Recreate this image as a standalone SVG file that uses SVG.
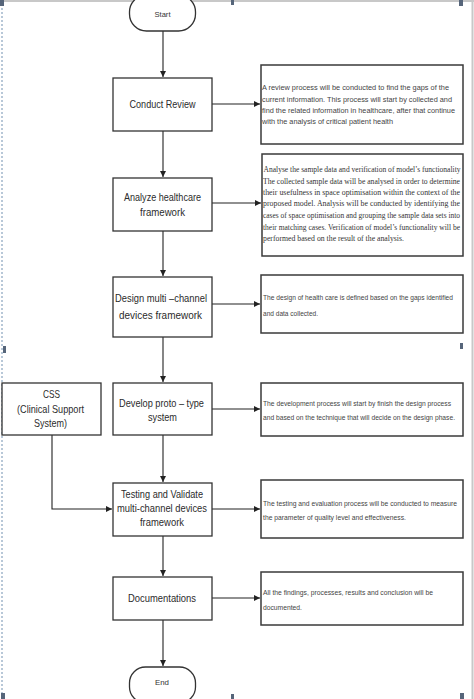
<svg xmlns="http://www.w3.org/2000/svg" width="474" height="699" viewBox="0 0 474 699">
<style>
.node{fill:#fff;stroke:#333;stroke-width:1.3}
.desc{fill:#fff;stroke:#3a3a3a;stroke-width:1.5}
.nt{font-family:"Liberation Sans",Arial,sans-serif;font-size:10.5px;fill:#2b2b2b;text-anchor:middle}
.tt{font-family:"Liberation Sans",Arial,sans-serif;font-size:8px;fill:#333;text-anchor:middle}
.dt{font-family:"Liberation Sans",Arial,sans-serif;font-size:7px;fill:#444}
.ds{font-family:"Liberation Serif","Times New Roman",serif;font-size:7.5px;fill:#333}
.con{fill:none;stroke:#222;stroke-width:1.1}
.hd{fill:#56657a}
</style>
<defs>
<marker id="arr" markerWidth="8" markerHeight="8" refX="6" refY="3" orient="auto" markerUnits="userSpaceOnUse">
<path d="M0,0 L6,3 L0,6 z" fill="#222"/>
</marker>
</defs>
<rect width="474" height="699" fill="#fff"/>
<g id="frame">
<line x1="0" y1="1" x2="474" y2="1" stroke="#c8c8c8" stroke-width="2"/>
<line x1="472.5" y1="0" x2="472.5" y2="699" stroke="#c8c8c8" stroke-width="2"/>
<line x1="2" y1="0" x2="2" y2="699" stroke="#b8c8d8" stroke-width="2" stroke-dasharray="2,2"/>
<rect class="hd" x="0" y="0" width="4" height="6"/>
<rect class="hd" x="231" y="0" width="3" height="5"/>
<rect class="hd" x="459" y="0" width="4" height="6"/>
<rect class="hd" x="3" y="346" width="3" height="7"/>
<rect class="hd" x="460" y="343" width="3" height="6"/>
<rect class="hd" x="1" y="693" width="4" height="6"/>
<rect class="hd" x="231" y="694" width="3" height="5"/>
<rect class="hd" x="460" y="693" width="4" height="6"/>
</g>
<g id="connectors">
<line class="con" x1="163" y1="31" x2="163" y2="77" marker-end="url(#arr)"/>
<line class="con" x1="163" y1="131" x2="163" y2="177" marker-end="url(#arr)"/>
<line class="con" x1="163" y1="231" x2="163" y2="276" marker-end="url(#arr)"/>
<line class="con" x1="163" y1="337" x2="163" y2="382" marker-end="url(#arr)"/>
<line class="con" x1="163" y1="435" x2="163" y2="482" marker-end="url(#arr)"/>
<line class="con" x1="163" y1="536" x2="163" y2="576" marker-end="url(#arr)"/>
<line class="con" x1="163" y1="620" x2="163" y2="666" marker-end="url(#arr)"/>
<line class="con" x1="212" y1="104" x2="260" y2="104" marker-end="url(#arr)"/>
<line class="con" x1="212" y1="203" x2="261" y2="203" marker-end="url(#arr)"/>
<line class="con" x1="212" y1="304" x2="260" y2="304" marker-end="url(#arr)"/>
<line class="con" x1="212" y1="409" x2="260" y2="409" marker-end="url(#arr)"/>
<line class="con" x1="212" y1="509" x2="260" y2="509" marker-end="url(#arr)"/>
<line class="con" x1="212" y1="598" x2="260" y2="598" marker-end="url(#arr)"/>
<polyline class="con" points="52,435 52,509 112,509" marker-end="url(#arr)"/>
</g>
<g id="start">
<rect class="node" x="129.5" y="-5" width="66" height="36" rx="17"/>
<text class="tt" x="162.5" y="17" textLength="16" lengthAdjust="spacingAndGlyphs">Start</text>
</g>
<g id="conduct-review">
<rect class="node" x="113" y="78" width="99" height="53"/>
<text class="nt" x="162.5" y="108" textLength="66" lengthAdjust="spacingAndGlyphs">Conduct Review</text>
</g>
<g id="desc-review">
<rect class="desc" x="261" y="65" width="202" height="79"/>
<text class="dt" x="262" y="90" textLength="187" lengthAdjust="spacingAndGlyphs">A review process will be conducted to find the gaps of the</text>
<text class="dt" x="262" y="101.5" textLength="190" lengthAdjust="spacingAndGlyphs">current information. This process will start by collected and</text>
<text class="dt" x="262" y="113" textLength="193" lengthAdjust="spacingAndGlyphs">find the related information in healthcare, after that continue</text>
<text class="dt" x="262" y="124" textLength="131" lengthAdjust="spacingAndGlyphs">with the analysis of critical patient health</text>
</g>
<g id="analyze">
<rect class="node" x="113" y="178" width="99" height="53"/>
<text class="nt" x="162.5" y="201" textLength="77" lengthAdjust="spacingAndGlyphs">Analyze healthcare</text>
<text class="nt" x="162.5" y="216" textLength="45" lengthAdjust="spacingAndGlyphs">framework</text>
</g>
<g id="desc-analyze">
<rect class="desc" x="262" y="154" width="201" height="102"/>
<text class="ds" x="263.5" y="171.5" textLength="197" lengthAdjust="spacingAndGlyphs">Analyse the sample data and verification of model’s functionality</text>
<text class="ds" x="263" y="183.5" textLength="197" lengthAdjust="spacingAndGlyphs">The collected sample data will be analysed in order to determine</text>
<text class="ds" x="263" y="194.5" textLength="197" lengthAdjust="spacingAndGlyphs">their usefulness in space optimisation within the context of the</text>
<text class="ds" x="263" y="205.5" textLength="197" lengthAdjust="spacingAndGlyphs">proposed model. Analysis will be conducted by identifying the</text>
<text class="ds" x="263" y="217.5" textLength="197" lengthAdjust="spacingAndGlyphs">cases of space optimisation and grouping the sample data sets into</text>
<text class="ds" x="263" y="229.5" textLength="197" lengthAdjust="spacingAndGlyphs">their matching cases. Verification of model’s functionality will be</text>
<text class="ds" x="263" y="240.5" textLength="141" lengthAdjust="spacingAndGlyphs">performed based on the result of the analysis.</text>
</g>
<g id="design">
<rect class="node" x="113" y="277" width="99" height="60"/>
<text class="nt" x="161" y="302" textLength="92" lengthAdjust="spacingAndGlyphs">Design multi –channel</text>
<text class="nt" x="160.5" y="319" textLength="83" lengthAdjust="spacingAndGlyphs">devices framework</text>
</g>
<g id="desc-design">
<rect class="desc" x="261" y="275" width="202" height="58"/>
<text class="dt" x="263" y="299.5" textLength="190" lengthAdjust="spacingAndGlyphs">The design of health care is defined based on the gaps identified</text>
<text class="dt" x="263" y="315.5" textLength="55" lengthAdjust="spacingAndGlyphs">and data collected.</text>
</g>
<g id="css">
<rect class="node" x="2" y="383" width="99" height="52"/>
<text class="nt" x="51.5" y="398" textLength="17" lengthAdjust="spacingAndGlyphs">CSS</text>
<text class="nt" x="50.5" y="413" textLength="67" lengthAdjust="spacingAndGlyphs">(Clinical Support</text>
<text class="nt" x="50.5" y="427" textLength="33" lengthAdjust="spacingAndGlyphs">System)</text>
</g>
<g id="develop">
<rect class="node" x="113" y="383" width="99" height="52"/>
<text class="nt" x="161.5" y="407" textLength="85" lengthAdjust="spacingAndGlyphs">Develop proto – type</text>
<text class="nt" x="162.5" y="421" textLength="29" lengthAdjust="spacingAndGlyphs">system</text>
</g>
<g id="desc-develop">
<rect class="desc" x="261" y="383" width="202" height="53"/>
<text class="dt" x="263" y="405.5" textLength="188" lengthAdjust="spacingAndGlyphs">The development process will start by finish the design process</text>
<text class="dt" x="263" y="419.5" textLength="192" lengthAdjust="spacingAndGlyphs">and based on the technique that will decide on the design phase.</text>
</g>
<g id="testing">
<rect class="node" x="113" y="483" width="99" height="53"/>
<text class="nt" x="162" y="498" textLength="82" lengthAdjust="spacingAndGlyphs">Testing and Validate</text>
<text class="nt" x="162" y="512" textLength="90" lengthAdjust="spacingAndGlyphs">multi-channel devices</text>
<text class="nt" x="162" y="526" textLength="44" lengthAdjust="spacingAndGlyphs">framework</text>
</g>
<g id="desc-testing">
<rect class="desc" x="261" y="480" width="202" height="58"/>
<text class="dt" x="263" y="505.5" textLength="194" lengthAdjust="spacingAndGlyphs">The testing and evaluation process will be conducted to measure</text>
<text class="dt" x="263" y="519.5" textLength="143" lengthAdjust="spacingAndGlyphs">the parameter of quality level and effectiveness.</text>
</g>
<g id="documentations">
<rect class="node" x="113" y="577" width="99" height="43"/>
<text class="nt" x="162" y="602" textLength="68" lengthAdjust="spacingAndGlyphs">Documentations</text>
</g>
<g id="desc-documentations">
<rect class="desc" x="261" y="572" width="202" height="53"/>
<text class="dt" x="263" y="594.5" textLength="170" lengthAdjust="spacingAndGlyphs">All the findings, processes, results and conclusion will be</text>
<text class="dt" x="263" y="609.5" textLength="39" lengthAdjust="spacingAndGlyphs">documented.</text>
</g>
<g id="end">
<rect class="node" x="129.5" y="667" width="66" height="36" rx="16"/>
<text class="tt" x="162" y="685" textLength="14" lengthAdjust="spacingAndGlyphs">End</text>
</g>
</svg>
